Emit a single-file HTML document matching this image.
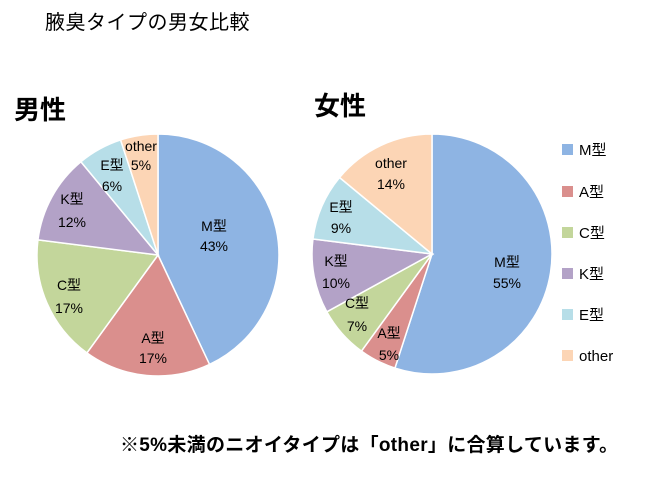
<!DOCTYPE html><html><head><meta charset="utf-8"><style>
body{margin:0;background:#fff;width:650px;height:487px;overflow:hidden}
text{font-family:"Liberation Sans","Noto Sans CJK JP",sans-serif;fill:#000}
</style></head><body>
<svg id="s" width="650" height="487" xmlns="http://www.w3.org/2000/svg">
<g id="p"></g>
<text x="45" y="29" font-size="20" letter-spacing="0.5">腋臭タイプの男女比較</text>
<text x="14" y="119" font-size="26" font-weight="bold">男性</text>
<text x="314" y="115" font-size="26" font-weight="bold">女性</text>
<g font-size="14" text-anchor="middle">
<text x="214" y="231">M型</text><text x="214" y="251">43%</text>
<text x="153" y="343">A型</text><text x="153" y="363">17%</text>
<text x="69" y="290">C型</text><text x="69" y="313">17%</text>
<text x="72" y="204">K型</text><text x="72" y="227">12%</text>
<text x="112" y="170">E型</text><text x="112" y="191">6%</text>
<text x="141" y="151">other</text><text x="141" y="170">5%</text>
<text x="507" y="267">M型</text><text x="507" y="288">55%</text>
<text x="389" y="338">A型</text><text x="389" y="360">5%</text>
<text x="357" y="308">C型</text><text x="357" y="331">7%</text>
<text x="336" y="266">K型</text><text x="336" y="288">10%</text>
<text x="341" y="212">E型</text><text x="341" y="233">9%</text>
<text x="391" y="168">other</text><text x="391" y="189">14%</text>
</g>
<g font-size="15">
<rect x="562" y="144" width="11" height="11" fill="#8EB4E3"/><text x="579" y="155">M型</text>
<rect x="562" y="186" width="11" height="11" fill="#DA8F8D"/><text x="579" y="197">A型</text>
<rect x="562" y="227" width="11" height="11" fill="#C3D69B"/><text x="579" y="238">C型</text>
<rect x="562" y="268" width="11" height="11" fill="#B3A2C7"/><text x="579" y="279">K型</text>
<rect x="562" y="309" width="11" height="11" fill="#B7DEE8"/><text x="579" y="320">E型</text>
<rect x="562" y="350" width="11" height="11" fill="#FCD5B5"/><text x="579" y="361">other</text>
</g>
<text x="120" y="451" font-size="19" font-weight="bold" letter-spacing="0.3">※5%未満のニオイタイプは「other」に合算しています。</text>
</svg>
<script>
var cols=["#8EB4E3","#DA8F8D","#C3D69B","#B3A2C7","#B7DEE8","#FCD5B5"];
function pie(cx,cy,r,v){var a=0,g=document.getElementById('p'),h='';
v.forEach(function(x,i){var b=a+x/100*2*Math.PI;
var x1=cx+r*Math.sin(a),y1=cy-r*Math.cos(a),x2=cx+r*Math.sin(b),y2=cy-r*Math.cos(b);
h+='<path d="M'+cx+' '+cy+'L'+x1+' '+y1+'A'+r+' '+r+' 0 '+(b-a>Math.PI?1:0)+' 1 '+x2+' '+y2+'Z" fill="'+cols[i]+'" stroke="#fff" stroke-width="1.5"/>';a=b;});
g.innerHTML+=h;}
pie(158,255,121,[43,17,17,12,6,5]);
pie(432,254,120,[55,5,7,10,9,14]);
</script>
</body></html>
